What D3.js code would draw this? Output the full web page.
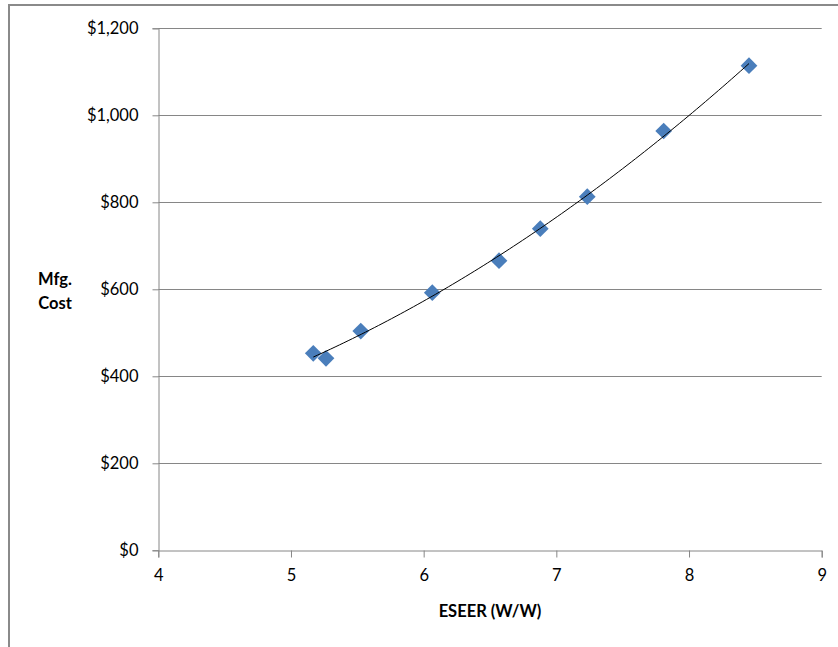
<!DOCTYPE html>
<html>
<head>
<meta charset="utf-8">
<script src="https://cdn.jsdelivr.net/npm/d3@7"></script>
<style>
  html, body { margin: 0; padding: 0; background: #fff; }
  svg { display: block; }
  text { font-family: Lato, "Open Sans", sans-serif; fill: #000; }
</style>
</head>
<body>
<svg id="chart" width="838" height="647"></svg>
<script>
const eseer = [5.168, 5.264, 5.526, 6.065, 6.568, 6.879, 7.233, 7.809, 8.452];
const mfgCost = [452.9, 441.4, 504.1, 592.2, 665.7, 739.3, 812.9, 963.9, 1114.0];
const xTicks = [4, 5, 6, 7, 8, 9];
const yTicks = [0, 200, 400, 600, 800, 1000, 1200];
const xTitle = "ESEER (W/W)";
const yTitleLines = ["Mfg.", "Cost"];

const svg = d3.select("#chart");
const L = 158.3, R = 821.7, T = 28.3, B = 550.3;

// outer frame (cut off at right and bottom like reference)
svg.append("rect").attr("x", 9).attr("y", 5).attr("width", 900).attr("height", 700)
  .attr("fill", "none").attr("stroke", "#8a8a8a").attr("stroke-width", 2);

const x = d3.scaleLinear().domain([4, 9]).range([L, R]);
const y = d3.scaleLinear().domain([0, 1200]).range([B, T]);

// gridlines
svg.append("g").selectAll("line").data(yTicks.filter(d => d > 0)).join("line")
  .attr("x1", L).attr("x2", R)
  .attr("y1", d => Math.round(y(d)) + 0.5).attr("y2", d => Math.round(y(d)) + 0.5)
  .attr("stroke", "#868686").attr("stroke-width", 1);

// y axis
const yAxis = svg.append("g").attr("transform", `translate(${Math.round(L) + 0.5},0)`)
  .call(d3.axisLeft(y).tickValues(yTicks).tickSize(6).tickPadding(14)
    .tickFormat(d => "$" + d3.format(",")(d)));
yAxis.select(".domain").attr("stroke", "#868686");
yAxis.selectAll(".tick line").attr("stroke", "#868686");
yAxis.selectAll(".tick text").style("font-size", "16.5px").attr("fill", "#000");

// x axis
const xAxis = svg.append("g").attr("transform", `translate(0,${Math.round(B) + 0.5})`)
  .call(d3.axisBottom(x).tickValues(xTicks).tickSize(7).tickPadding(12)
    .tickFormat(d3.format("d")));
xAxis.select(".domain").attr("stroke", "#868686");
xAxis.selectAll(".tick line").attr("stroke", "#868686");
xAxis.selectAll(".tick text").style("font-size", "16.5px").attr("fill", "#000");

// polynomial (order 2) trendline via least squares
function polyfit2(xs, ys) {
  let n = xs.length, sx = 0, sx2 = 0, sx3 = 0, sx4 = 0, sy = 0, sxy = 0, sx2y = 0;
  for (let i = 0; i < n; i++) {
    const a = xs[i], b = ys[i];
    sx += a; sx2 += a * a; sx3 += a * a * a; sx4 += a * a * a * a;
    sy += b; sxy += a * b; sx2y += a * a * b;
  }
  const M = [[n, sx, sx2, sy], [sx, sx2, sx3, sxy], [sx2, sx3, sx4, sx2y]];
  for (let i = 0; i < 3; i++) {
    for (let k = i + 1; k < 3; k++) {
      const f = M[k][i] / M[i][i];
      for (let j = i; j < 4; j++) M[k][j] -= f * M[i][j];
    }
  }
  const c = [0, 0, 0];
  for (let i = 2; i >= 0; i--) {
    let s = M[i][3];
    for (let j = i + 1; j < 3; j++) s -= M[i][j] * c[j];
    c[i] = s / M[i][i];
  }
  return c;
}
const coef = polyfit2(eseer, mfgCost);
const xmin = d3.min(eseer), xmax = d3.max(eseer);
const trend = d3.range(0, 101).map(i => {
  const xv = xmin + (xmax - xmin) * i / 100;
  return [xv, coef[0] + coef[1] * xv + coef[2] * xv * xv];
});

// markers
const pts = eseer.map((v, i) => [v, mfgCost[i]]);
svg.append("g").selectAll("path").data(pts).join("path")
  .attr("d", d3.symbol().type(d3.symbolSquare).size(140))
  .attr("transform", d => `translate(${x(d[0])},${y(d[1])}) rotate(45)`)
  .attr("fill", "#4A7EBB");

svg.append("path").datum(trend)
  .attr("d", d3.line().x(d => x(d[0])).y(d => y(d[1])))
  .attr("fill", "none").attr("stroke", "#000").attr("stroke-width", 1);

// titles
svg.append("text").attr("x", (L + R) / 2).attr("y", 617).attr("text-anchor", "middle")
  .style("font-size", "16.5px").style("font-weight", "bold").text(xTitle);
svg.append("g").selectAll("text").data(yTitleLines).join("text")
  .attr("x", 55).attr("y", (d, i) => 285 + i * 24).attr("text-anchor", "middle")
  .style("font-size", "16.5px").style("font-weight", "bold").text(d => d);
</script>
</body>
</html>
